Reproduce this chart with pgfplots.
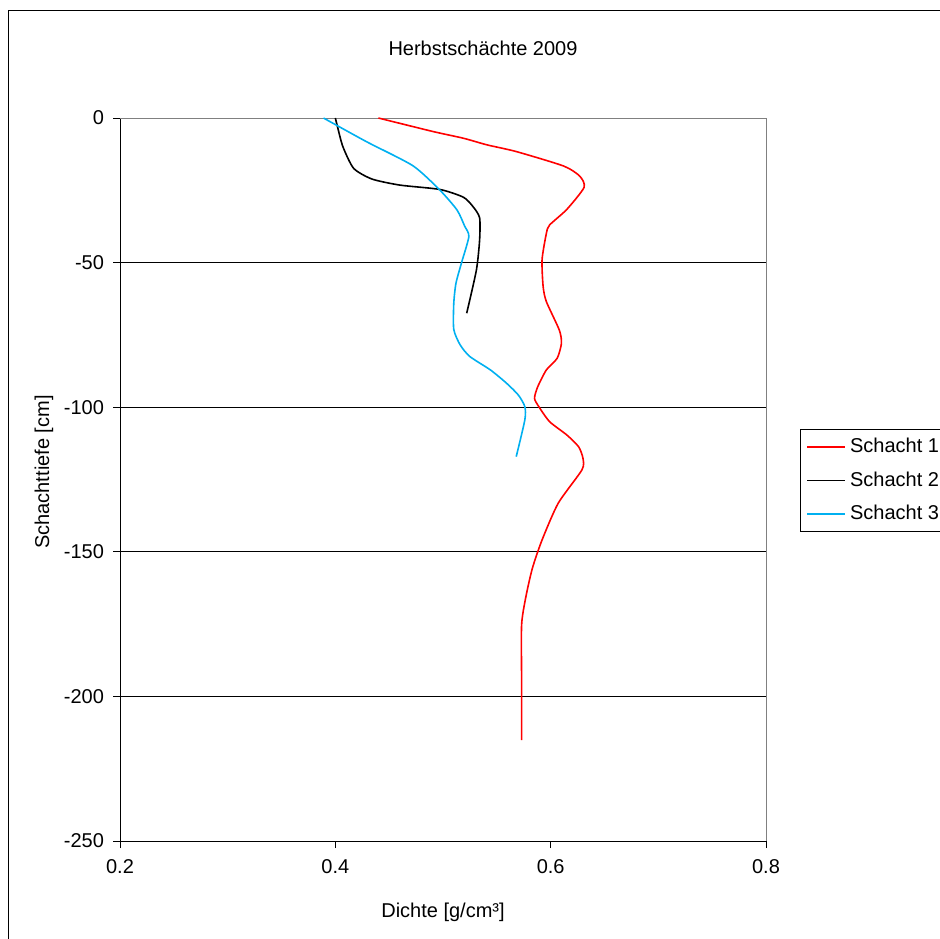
\documentclass[border=0pt]{standalone}
\usepackage{fontspec}
\setmainfont{Liberation Sans}
\usepackage{pgfplots}
\pgfplotsset{compat=1.18}
\definecolor{sred}{RGB}{255,0,0}
\definecolor{sblue}{RGB}{0,176,240}
\begin{document}
\begin{tikzpicture}
\useasboundingbox (0,0) rectangle (470pt,-469pt);
\draw[line width=0.5pt] (4.2pt,-5.3pt) rectangle (490pt,-490pt);
\node[font=\fontsize{10}{12}\selectfont] at (241.5pt,-24pt) {Herbstschächte 2009};
\node[font=\fontsize{10}{12}\selectfont, rotate=90] at (22pt,-236pt) {Schachttiefe [cm]};
\node[font=\fontsize{10}{12}\selectfont] at (221.5pt,-456pt) {Dichte [g/cm³]};
\begin{axis}[
  at={(60pt,-420.5pt)}, anchor=south west,
  scale only axis, width=323pt, height=361.5pt,
  xmin=0.2, xmax=0.8, ymin=-250, ymax=0,
  axis x line=bottom, axis y line=left,
  axis line style={-, black, line width=0.5pt},
  xtick={0.2,0.4,0.6,0.8}, xticklabels={0.2,0.4,0.6,0.8},
  ytick={0,-50,-100,-150,-200,-250}, yticklabels={0,-50,-100,-150,-200,-250},
  tick align=outside, major tick length=3.5pt,
  tick style={black, line width=0.5pt},
  ymajorgrids, major grid style={black, line width=0.5pt},
  ticklabel style={font=\fontsize{10}{12}\selectfont},
  yticklabel style={xshift=-1pt},
  xticklabel style={yshift=-2pt},
  legend style={at={(rel axis cs:1.0526,0.570)}, anchor=north west, draw=black, line width=0.5pt,
    font=\fontsize{10}{12}\selectfont, row sep=4pt, inner xsep=3pt, inner ysep=2.5pt},
  legend cell align=left,
  legend image code/.code={\draw[#1] (0pt,0pt) -- (19pt,0pt);},
  clip=false,
]
\draw[gray, line width=0.5pt] (rel axis cs:0,1) -- (rel axis cs:1,1) -- (rel axis cs:1,0);
\addplot[sred, line width=0.8pt, smooth, tension=0.4] coordinates {
(0.440,0) (0.491,-4.7) (0.519,-7.0) (0.541,-9.3) (0.568,-11.6) (0.612,-16.6) (0.627,-20.1) (0.631,-24.0)
(0.615,-31.6) (0.599,-37) (0.596,-39.9) (0.592,-49) (0.593,-58.3) (0.596,-63.5) (0.608,-73.3) (0.610,-77.9)
(0.606,-83.1) (0.596,-87.1) (0.588,-92.9) (0.585,-96.9) (0.589,-99.8) (0.599,-105) (0.615,-109.6)
(0.626,-113.7) (0.630,-117.7) (0.629,-121.7) (0.607,-133.2) (0.592,-145.9) (0.583,-155.7) (0.577,-165.5)
(0.573,-175.3) (0.573,-195) (0.573,-215.1)
};
\addlegendentry{Schacht 1}
\addplot[black, line width=0.8pt, smooth, tension=0.4] coordinates {
(0.400,0) (0.402,-3) (0.407,-9.9) (0.417,-17.4) (0.434,-21.1) (0.460,-23.2) (0.497,-24.7) (0.519,-27.4)
(0.528,-30.7) (0.534,-34.5) (0.534,-42.2) (0.531,-52.6) (0.522,-67.5)
};
\addlegendentry{Schacht 2}
\addplot[sblue, line width=0.8pt, smooth, tension=0.4] coordinates {
(0.389,0) (0.429,-8.2) (0.472,-16.5) (0.497,-24.9) (0.513,-31.8) (0.520,-37.3) (0.524,-41.0) (0.517,-50.3)
(0.512,-57.2) (0.510,-64.1) (0.510,-73.1) (0.516,-78.5) (0.525,-82.5) (0.544,-87.1) (0.559,-91.7)
(0.570,-95.8) (0.576,-99.8) (0.576,-104.4) (0.568,-117.1)
};
\addlegendentry{Schacht 3}
\end{axis}
\end{tikzpicture}
\end{document}
